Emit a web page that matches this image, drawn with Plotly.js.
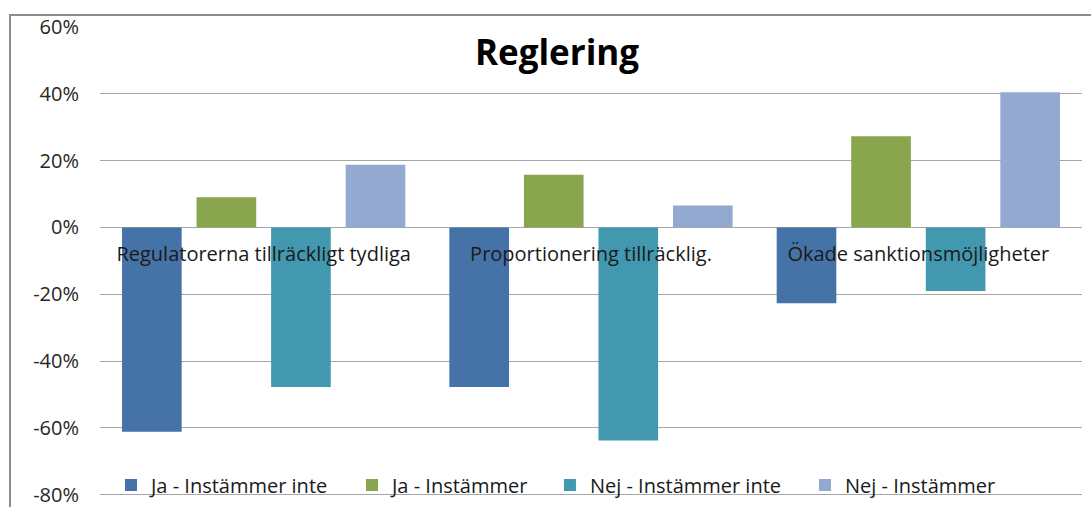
<!DOCTYPE html>
<html><head><meta charset="utf-8">
<script src="https://cdn.plot.ly/plotly-3.0.1.min.js"></script>
<style>
body{margin:0;background:#fff;}
#wrap{position:relative;width:1091px;height:507px;overflow:hidden;}
#frame{position:absolute;left:9px;top:14px;width:1100px;height:600px;border-left:2px solid #8c8c8c;border-top:2px solid #8c8c8c;pointer-events:none;}
</style>
</head><body>
<div id="wrap"><div id="chart" style="width:1091px;height:507px;"></div><div id="frame"></div></div>
<script>
const categories = ["Regulatorerna tillräckligt tydliga", "Proportionering tillräcklig.", "Ökade sanktionsmöjligheter"];
const seriesNames = ["Ja - Instämmer inte", "Ja - Instämmer", "Nej - Instämmer inte", "Nej - Instämmer"];
const jaInstammerInte = [-61.2, -47.8, -22.7];
const jaInstammer = [9.0, 15.8, 27.3];
const nejInstammerInte = [-47.8, -63.8, -19.0];
const nejInstammer = [18.8, 6.6, 40.5];
const yTicks = [-80, -60, -40, -20, 0, 20, 40, 60];
const colors = ["#4572A7", "#89A54E", "#4198AF", "#93A9CF"];

const values = [jaInstammerInte, jaInstammer, nejInstammerInte, nejInstammer];
const font = "Open Sans, Liberation Sans, sans-serif";
const legendIds = ["legend", "legend2", "legend3", "legend4"];
const legendX = [0.0112, 0.2566, 0.4582, 0.7179];
const traces = values.map((v, i) => ({
  type: "bar", x: categories, y: v, name: seriesNames[i], legend: legendIds[i],
  marker: {color: colors[i], line: {width: 0}}, hoverinfo: "none"
}));

const layout = {
  width: 1091, height: 507,
  margin: {l: 100, r: 9, t: 27, b: 11, autoexpand: false},
  paper_bgcolor: "#fff", plot_bgcolor: "#fff",
  barmode: "group", bargap: 0.089, bargroupgap: 0.2,
  showlegend: true,
  title: {text: "<b>Reglering</b>", font: {family: font, size: 35, color: "#000"},
          xref: "paper", x: 0.4654, xanchor: "center", yref: "container", y: 0.8955, yanchor: "middle"},
  xaxis: {type: "category", anchor: "free", position: 80/140, showgrid: false, showline: false,
          zeroline: false, ticks: "", ticklabelstandoff: 12, automargin: false,
          tickfont: {family: font, size: 20, color: "#1a1a1a"}, layer: "above traces"},
  yaxis: {range: [-80.4, 60], tickvals: yTicks, ticktext: yTicks.map(t => t + "%"), automargin: false,
          ticklabeloverflow: "allow",
          showgrid: true, gridcolor: "#a6a6a6", gridwidth: 1, zeroline: true, zerolinecolor: "#a6a6a6", zerolinewidth: 1,
          showline: false, ticks: "", ticklabelstandoff: 20,
          tickfont: {family: font, size: 20, color: "#262626"}}
};
legendIds.forEach((id, i) => {
  layout[id] = {orientation: "h", x: legendX[i], xanchor: "left", y: 0.0234, yanchor: "middle",
    bgcolor: "rgba(0,0,0,0)", font: {family: font, size: 20, color: "#1a1a1a"}};
});
Plotly.newPlot("chart", traces, layout, {staticPlot: true, displayModeBar: false});
</script>
</body></html>
